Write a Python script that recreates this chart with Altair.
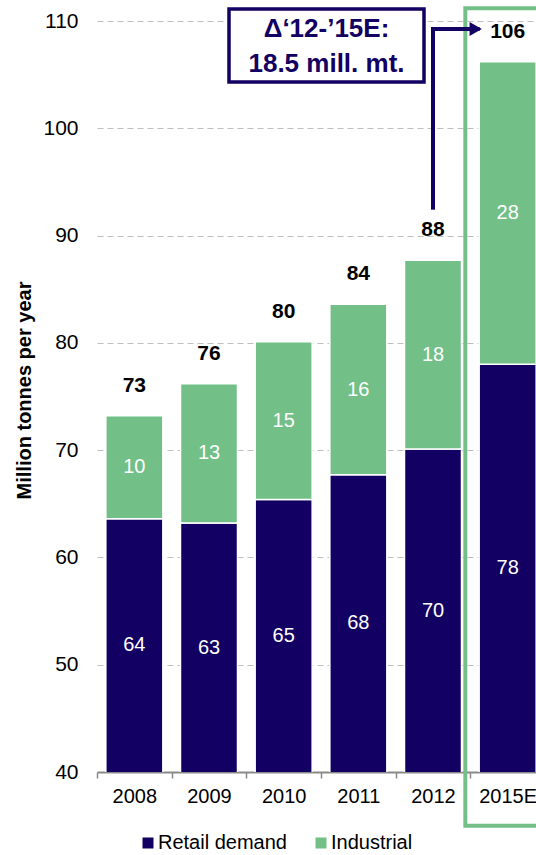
import altair as alt
import pandas as pd

# ---- data ----
years = ["2008", "2009", "2010", "2011", "2012", "2015E"]
retail = [63.6, 63.2, 65.4, 67.7, 70.1, 78.0]
industrial = [9.6, 13.0, 14.7, 15.9, 17.6, 28.2]
series = ["Retail demand", "Industrial"]
colors = ["#120062", "#72BF88"]
y_ticks = [40, 50, 60, 70, 80, 90, 100, 110]
base_year = "2012"
highlight_year = "2015E"

NAVY = "#120062"
GREEN = "#72BF88"
FONT = "Liberation Sans"
Y_MIN, Y_MAX = 40, 110

totals = [round(r + i, 1) for r, i in zip(retail, industrial)]
delta = totals[years.index(highlight_year)] - totals[years.index(base_year)]
box_lines = ["\u0394\u201812-\u201915E:", f"{delta:.1f} mill. mt."]

rows = []
for k, yr in enumerate(years):
    start = 0.0
    for s_i, (name, vals) in enumerate(zip(series, [retail, industrial])):
        end = start + vals[k]
        mid = (max(start, Y_MIN) + end) / 2
        rows.append({"year": yr, "series": name, "order": s_i, "start": start,
                     "end": end, "mid": mid, "label": f"{vals[k]:.0f}"})
        start = end
df = pd.DataFrame(rows)
tot = pd.DataFrame({"year": years, "total": totals, "label": [f"{t:.0f}" for t in totals]})

x_scale = alt.Scale(domain=years, range=[0, 448], paddingInner=0, paddingOuter=0)
y_scale = alt.Scale(domain=[Y_MIN, Y_MAX], nice=False, zero=False)

x_enc = alt.X("year:N", scale=x_scale, sort=years, title=None,
              axis=alt.Axis(labelFontSize=20, labelFont=FONT, labelColor="black",
                            labelAngle=0, domainColor="#898989", domainWidth=2,
                            tickColor="#898989", tickWidth=1.5, tickSize=6,
                            tickBand="extent", labelPadding=8, grid=False))

bars = alt.Chart(df).mark_bar(size=57, stroke="white", strokeWidth=1.5, clip=True).encode(
    x=x_enc,
    y=alt.Y("start:Q", scale=y_scale,
            axis=alt.Axis(values=y_ticks, domain=False, ticks=False, grid=True,
                          gridColor="#BFBFBF", gridDash=[6, 4], gridWidth=1,
                          labelFontSize=21, labelFont=FONT, labelColor="black",
                          labelPadding=19, title="Million tonnes per year",
                          titleFont=FONT, titleFontSize=20,
                          titleFontWeight="bold", titleColor="black",
                          titleAngle=-90, titleX=-67, titleY=369,
                          titleBaseline="alphabetic", titleAlign="center")),
    y2="end:Q",
    color=alt.Color("series:N", scale=alt.Scale(domain=series, range=colors),
                    legend=alt.Legend(orient="none", legendX=41, legendY=812,
                                      direction="horizontal", title=None,
                                      symbolType="square", symbolSize=121,
                                      symbolStrokeWidth=0, labelFontSize=20,
                                      labelFont=FONT, labelColor="black",
                                      columnPadding=24, labelOffset=0, padding=0)),
    order=alt.Order("order:Q"),
)

inner = alt.Chart(df).mark_text(color="white", fontSize=20, font=FONT,
                                baseline="middle").encode(
    x=alt.X("year:N", scale=x_scale, sort=years),
    y=alt.Y("mid:Q", scale=y_scale),
    text="label:N",
)

tot_text = alt.Chart(tot).mark_text(color="black", fontSize=21, font=FONT,
                                    fontWeight="bold", baseline="alphabetic",
                                    dy=-24).encode(
    x=alt.X("year:N", scale=x_scale, sort=years),
    y=alt.Y("total:Q", scale=y_scale),
    text="label:N",
)

hl = alt.Chart(pd.DataFrame({"year": [highlight_year], "top": [111.2], "bottom": [35.0]})).mark_rect(
    fillOpacity=0, stroke=GREEN, strokeWidth=4, xOffset=-5, x2Offset=-5).encode(
    x=alt.X("year:N", scale=x_scale, sort=years),
    y=alt.Y("top:Q", scale=y_scale),
    y2="bottom:Q",
)

arrow_df = pd.DataFrame({"from": [base_year], "to": [highlight_year],
                         "low": [92.6], "high": [109.25]})
vline = alt.Chart(arrow_df).mark_rule(color=NAVY, strokeWidth=4, strokeCap="square").encode(
    x=alt.X("from:N", scale=x_scale, sort=years),
    y=alt.Y("low:Q", scale=y_scale),
    y2="high:Q",
)
hline = alt.Chart(arrow_df).mark_rule(color=NAVY, strokeWidth=4, strokeCap="square",
                                      x2Offset=-30).encode(
    x=alt.X("from:N", scale=x_scale, sort=years),
    x2="to:N",
    y=alt.Y("high:Q", scale=y_scale),
)
head = alt.Chart(arrow_df).mark_point(shape="triangle-right", filled=True, size=200,
                                      color=NAVY, opacity=1, xOffset=-32).encode(
    x=alt.X("to:N", scale=x_scale, sort=years),
    y=alt.Y("high:Q", scale=y_scale),
)

one = pd.DataFrame({"a": [0]})
box = alt.Chart(one).mark_rect(fill="white", stroke=NAVY, strokeWidth=3.5).encode(
    x=alt.value(132), x2=alt.value(327), y=alt.value(-12), y2=alt.value(61))
box_text = alt.Chart(one).mark_text(fontSize=26, fontWeight="bold", color=NAVY, font=FONT,
                                    align="center", baseline="alphabetic",
                                    lineHeight=35).encode(
    x=alt.value(229.5), y=alt.value(16), text=alt.value(box_lines))

chart = alt.layer(bars, inner, tot_text, hl, vline, hline, head, box, box_text).properties(
    width=439, height=751,
    padding={"left": 97, "top": 21, "right": 0, "bottom": 83},
    autosize=alt.AutoSizeParams(type="none"),
).configure_view(stroke=None)

chart.save("out.html", embed_options={"renderer": "svg", "actions": False})
